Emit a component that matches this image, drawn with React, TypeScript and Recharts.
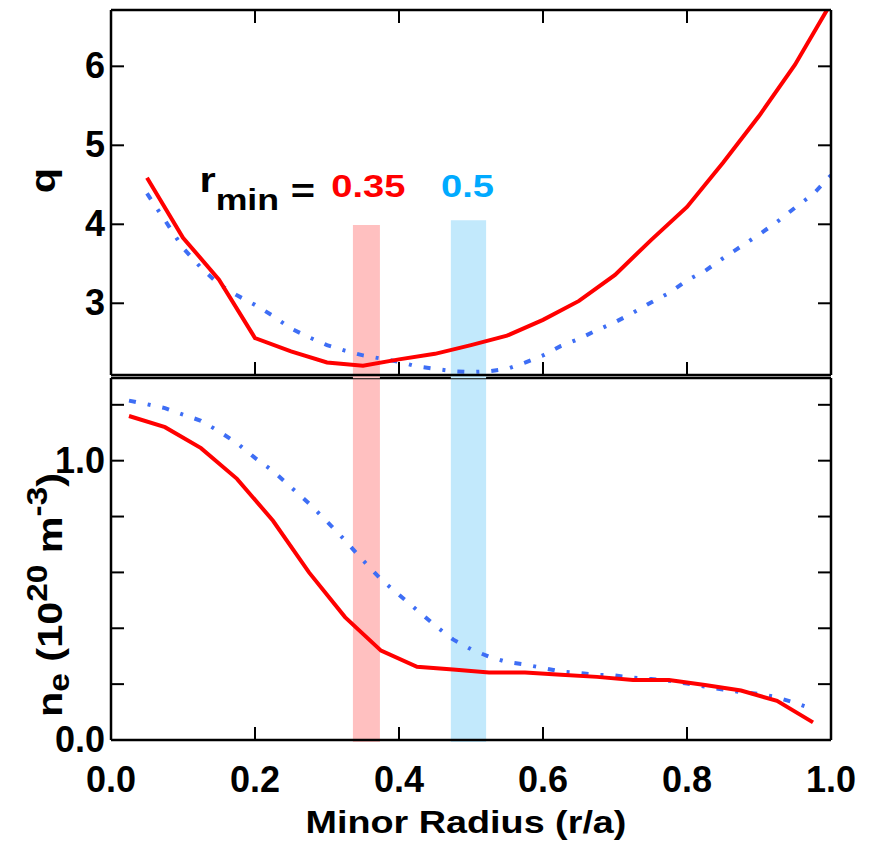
import React from 'react';
import { LineChart, Line, XAxis, YAxis, ReferenceArea } from 'recharts';

const FONT = '"Liberation Sans", Arial, Helvetica, sans-serif';

// ---- data: safety factor q (top panel) ----
const qRedR = [0.05, 0.1, 0.15, 0.2, 0.25, 0.3, 0.35, 0.4, 0.45, 0.5, 0.55, 0.6, 0.65, 0.7, 0.75, 0.8, 0.85, 0.9, 0.95, 1.0];
const qRedV = [4.59, 3.83, 3.3, 2.56, 2.39, 2.25, 2.21, 2.29, 2.36, 2.47, 2.59, 2.79, 3.03, 3.36, 3.8, 4.22, 4.78, 5.37, 6.02, 6.8];

const qBlueR = [0.05, 0.075, 0.1, 0.125, 0.15, 0.175, 0.2, 0.225, 0.25, 0.275, 0.3, 0.325, 0.35, 0.375, 0.4, 0.425, 0.45, 0.475, 0.5, 0.525, 0.55, 0.575, 0.6, 0.625, 0.65, 0.675, 0.7, 0.725, 0.75, 0.775, 0.8, 0.825, 0.85, 0.875, 0.9, 0.925, 0.95, 0.975, 1.0];
const qBlueV = [4.39, 4.05, 3.7, 3.45, 3.24, 3.1, 2.98, 2.84, 2.68, 2.57, 2.47, 2.4, 2.34, 2.3, 2.26, 2.2, 2.17, 2.14, 2.13, 2.14, 2.17, 2.25, 2.34, 2.46, 2.55, 2.66, 2.76, 2.88, 3.01, 3.13, 3.29, 3.41, 3.57, 3.72, 3.87, 4.03, 4.21, 4.38, 4.62];

// ---- data: electron density n_e (bottom panel) ----
const neRedR = [0.025, 0.075, 0.125, 0.175, 0.225, 0.275, 0.325, 0.375, 0.425, 0.475, 0.525, 0.575, 0.625, 0.675, 0.725, 0.775, 0.825, 0.875, 0.925, 0.975];
const neRedV = [1.16, 1.12, 1.045, 0.935, 0.785, 0.6, 0.44, 0.32, 0.262, 0.252, 0.242, 0.242, 0.234, 0.226, 0.215, 0.215, 0.197, 0.177, 0.14, 0.063];

const neBlueR = [0.025, 0.05, 0.075, 0.1, 0.125, 0.15, 0.175, 0.2, 0.225, 0.25, 0.275, 0.3, 0.325, 0.35, 0.375, 0.4, 0.425, 0.45, 0.475, 0.5, 0.525, 0.55, 0.575, 0.6, 0.625, 0.65, 0.675, 0.7, 0.725, 0.75, 0.775, 0.8, 0.825, 0.85, 0.875, 0.9, 0.925, 0.95, 0.975];
const neBlueV = [1.215, 1.202, 1.188, 1.165, 1.143, 1.105, 1.063, 1.01, 0.963, 0.905, 0.847, 0.782, 0.715, 0.643, 0.575, 0.52, 0.465, 0.41, 0.36, 0.325, 0.298, 0.279, 0.27, 0.258, 0.245, 0.24, 0.233, 0.231, 0.223, 0.218, 0.212, 0.202, 0.191, 0.181, 0.171, 0.165, 0.153, 0.133, 0.11];

// ---- axes ----
const xDomain = [0, 1];
const xTicks = [0, 0.2, 0.4, 0.6, 0.8, 1.0];
const xTickLabels = ['0.0', '0.2', '0.4', '0.6', '0.8', '1.0'];
const xInnerTicks = [0.2, 0.4, 0.6, 0.8];
const qDomain = [2.092, 6.713];
const qTicks = [3, 4, 5, 6];
const qTickLabels = ['3', '4', '5', '6'];
const neDomain = [0, 1.296];
const neTicks = [0, 0.2, 0.4, 0.6, 0.8, 1.0, 1.2];
const neTickLabels = ['0.0', '', '', '', '', '1.0', ''];

// ---- r_min bands ----
const bandRed = [0.336, 0.3735];
const bandBlue = [0.472, 0.521];
const bandRedTop = 3.99;
const bandBlueTop = 4.05;

const RED = '#ff0000';
const BLUE = '#3e6ef5';
const TL = 13;

const toPts = (r: number[], v: number[]) => r.map((x, i) => ({ r: x, v: v[i] }));

const labelFor = (values: number[], labels: string[] | undefined, val: number) => {
  if (!labels) return '';
  const i = values.findIndex((t) => Math.abs(t - val) < 1e-9);
  return i >= 0 ? labels[i] : '';
};

const makeTick = (side: string, values: number[], labels?: string[]) => (p: any) => {
  const { x, y, payload } = p;
  const lab = labelFor(values, labels, payload.value);
  let line = null;
  let text = null;
  const ts = { fontFamily: FONT, fontWeight: 'bold' as const, fontSize: 36, fill: '#000' };
  if (side === 'left') {
    line = <line x1={x} x2={x + TL} y1={y} y2={y} stroke="#000" strokeWidth={2} />;
    if (lab) text = <text x={x - 6} y={y + 12} textAnchor="end" {...ts}>{lab}</text>;
  } else if (side === 'right') {
    line = <line x1={x} x2={x - TL} y1={y} y2={y} stroke="#000" strokeWidth={2} />;
  } else if (side === 'bottom') {
    line = <line x1={x} x2={x} y1={y} y2={y - TL} stroke="#000" strokeWidth={2} />;
    if (lab) text = <text x={x} y={y + 52} textAnchor="middle" {...ts}>{lab}</text>;
  } else if (side === 'top') {
    line = <line x1={x} x2={x} y1={y} y2={y + TL} stroke="#000" strokeWidth={2} />;
  }
  return (
    <g>
      {line}
      {text}
    </g>
  );
};

const axisLine = { stroke: '#000', strokeWidth: 2.5 };

const qLabel = (props: any) => {
  const vb = props.viewBox || { x: 110, y: 10, width: 1, height: 365 };
  const ax = vb.x + vb.width;
  const cx = ax - 56;
  const cy = vb.y + vb.height / 2 - 12;
  return (
    <text transform={`translate(${cx},${cy}) rotate(-90) scale(1.15,1)`} textAnchor="middle" fontFamily={FONT} fontWeight="bold" fontSize={36} fill="#000">
      q
    </text>
  );
};

const neLabel = (props: any) => {
  const vb = props.viewBox || { x: 110, y: 378, width: 1, height: 362 };
  const ax = vb.x + vb.width;
  const cx = ax - 49;
  const cy = vb.y + vb.height / 2 + 36;
  return (
    <text transform={`translate(${cx},${cy}) rotate(-90) scale(1.15,1)`} textAnchor="middle" fontFamily={FONT} fontWeight="bold" fontSize={36} fill="#000">
      <tspan>n</tspan>
      <tspan fontSize={29} dy={7}>e</tspan>
      <tspan dy={-7}> (10</tspan>
      <tspan fontSize={29} dy={-15}>20</tspan>
      <tspan dy={15}> m</tspan>
      <tspan fontSize={29} dy={-15}>-3</tspan>
      <tspan dy={15}>)</tspan>
    </text>
  );
};

const xLabel = (props: any) => {
  const vb = props.viewBox || { x: 111, y: 740, width: 720, height: 1 };
  const cx = vb.x + vb.width / 2 - 5;
  const cy = vb.y + 93;
  return (
    <text transform={`translate(${cx},${cy}) scale(1.18,1)`} textAnchor="middle" fontFamily={FONT} fontWeight="bold" fontSize={32} fill="#000">
      Minor Radius (r/a)
    </text>
  );
};

const redBandLabel = (props: any) => {
  const { x, y, width } = props.viewBox;
  const cx = x + width / 2;
  const base = y - 28.4;
  return (
    <g>
      <text transform={`translate(${cx - 167},${base - 5}) scale(1.19,1)`} fontFamily={FONT} fontWeight="bold" fill="#000">
        <tspan fontSize={35}>r</tspan>
        <tspan fontSize={30} dy={18}>min</tspan>
        <tspan fontSize={35} dy={-7}> =</tspan>
      </text>
      <text transform={`translate(${cx + 2},${base}) scale(1.19,1)`} textAnchor="middle" fontFamily={FONT} fontWeight="bold" fontSize={32} fill={RED}>
        0.35
      </text>
    </g>
  );
};

const blueBandLabel = (props: any) => {
  const { x, y, width } = props.viewBox;
  const cx = x + width / 2;
  const base = y - 23.7;
  return (
    <text transform={`translate(${cx - 1},${base}) scale(1.19,1)`} textAnchor="middle" fontFamily={FONT} fontWeight="bold" fontSize={32} fill="#00aaff">
      0.5
    </text>
  );
};

export default function App() {
  const qRed = toPts(qRedR, qRedV);
  const qBlue = toPts(qBlueR, qBlueV);
  const neRed = toPts(neRedR, neRedV);
  const neBlue = toPts(neBlueR, neBlueV);

  return (
    <div style={{ position: 'absolute', left: 0, top: 0, width: 871, height: 846, background: '#fff', overflow: 'hidden' }}>
      {/* bottom panel: n_e */}
      <div style={{ position: 'absolute', left: 0, top: 0 }}>
        <LineChart width={871} height={846} margin={{ top: 377, right: 39, bottom: 105, left: 110 }}>
          <XAxis xAxisId="b" dataKey="r" type="number" domain={xDomain} ticks={xTicks} interval={0} allowDataOverflow height={1} tickSize={0} tickMargin={0} tickLine={false} axisLine={axisLine} tick={makeTick('bottom', xTicks, xTickLabels)} label={xLabel} />
          <XAxis xAxisId="t" orientation="top" dataKey="r" type="number" domain={xDomain} allowDataOverflow height={1} tick={false} tickLine={false} axisLine={axisLine} />
          <YAxis yAxisId="l" type="number" domain={neDomain} ticks={neTicks} interval={0} allowDataOverflow width={1} tickSize={0} tickMargin={0} tickLine={false} axisLine={axisLine} tick={makeTick('left', neTicks, neTickLabels)} label={neLabel} />
          <YAxis yAxisId="r" orientation="right" type="number" domain={neDomain} ticks={neTicks} interval={0} allowDataOverflow width={1} tickSize={0} tickMargin={0} tickLine={false} axisLine={axisLine} tick={makeTick('right', neTicks)} />
          <Line xAxisId="b" yAxisId="l" data={neBlue} dataKey="v" stroke={BLUE} strokeWidth={4} strokeDasharray="7 12 3 12" dot={false} activeDot={false} isAnimationActive={false} />
          <Line xAxisId="b" yAxisId="l" data={neRed} dataKey="v" stroke={RED} strokeWidth={4} dot={false} activeDot={false} isAnimationActive={false} />
          <ReferenceArea xAxisId="b" yAxisId="l" x1={bandRed[0]} x2={bandRed[1]} y1={-0.007} y2={neDomain[1]} fill="#ffc0c0" fillOpacity={1} stroke="none" ifOverflow="visible" />
          <ReferenceArea xAxisId="b" yAxisId="l" x1={bandBlue[0]} x2={bandBlue[1]} y1={-0.007} y2={neDomain[1]} fill="#c2e9fc" fillOpacity={1} stroke="none" ifOverflow="visible" />
        </LineChart>
      </div>
      {/* top panel: q */}
      <div style={{ position: 'absolute', left: 0, top: 0 }}>
        <LineChart width={871} height={380} margin={{ top: 9, right: 39, bottom: 4, left: 110 }}>
          <XAxis xAxisId="b" dataKey="r" type="number" domain={xDomain} ticks={xInnerTicks} interval={0} allowDataOverflow height={1} tickSize={0} tickMargin={0} tickLine={false} axisLine={axisLine} tick={makeTick('bottom', xInnerTicks)} />
          <XAxis xAxisId="t" orientation="top" dataKey="r" type="number" domain={xDomain} ticks={xInnerTicks} interval={0} allowDataOverflow height={1} tickSize={0} tickMargin={0} tickLine={false} axisLine={axisLine} tick={makeTick('top', xInnerTicks)} />
          <YAxis yAxisId="l" type="number" domain={qDomain} ticks={qTicks} interval={0} allowDataOverflow width={1} tickSize={0} tickMargin={0} tickLine={false} axisLine={axisLine} tick={makeTick('left', qTicks, qTickLabels)} label={qLabel} />
          <YAxis yAxisId="r" orientation="right" type="number" domain={qDomain} ticks={qTicks} interval={0} allowDataOverflow width={1} tickSize={0} tickMargin={0} tickLine={false} axisLine={axisLine} tick={makeTick('right', qTicks)} />
          <Line xAxisId="b" yAxisId="l" data={qBlue} dataKey="v" stroke={BLUE} strokeWidth={4} strokeDasharray="7 12 3 12" dot={false} activeDot={false} isAnimationActive={false} />
          <Line xAxisId="b" yAxisId="l" data={qRed} dataKey="v" stroke={RED} strokeWidth={4} dot={false} activeDot={false} isAnimationActive={false} />
          <ReferenceArea xAxisId="b" yAxisId="l" x1={bandRed[0]} x2={bandRed[1]} y1={2.05} y2={bandRedTop} fill="#ffc0c0" fillOpacity={1} stroke="none" ifOverflow="visible" label={redBandLabel} />
          <ReferenceArea xAxisId="b" yAxisId="l" x1={bandBlue[0]} x2={bandBlue[1]} y1={2.05} y2={bandBlueTop} fill="#c2e9fc" fillOpacity={1} stroke="none" ifOverflow="visible" label={blueBandLabel} />
        </LineChart>
      </div>
    </div>
  );
}
